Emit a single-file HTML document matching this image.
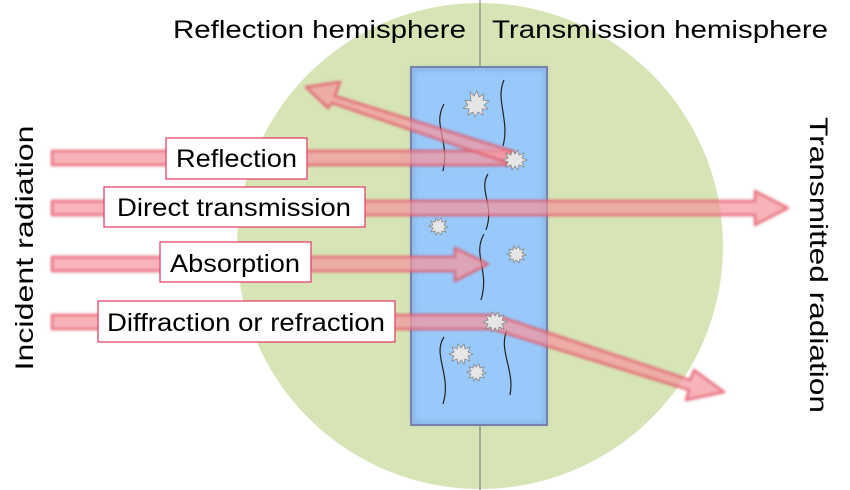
<!DOCTYPE html>
<html><head><meta charset="utf-8"><style>
html,body{margin:0;padding:0;background:#fff;}
svg{display:block;font-family:"Liberation Sans",sans-serif;}
</style></head><body>
<svg width="850" height="490" viewBox="0 0 850 490">
<defs>
<filter id="g" x="-20%" y="-50%" width="140%" height="200%"><feGaussianBlur stdDeviation="1.3"/></filter>
<filter id="sh"><feGaussianBlur stdDeviation="2"/></filter>
</defs>
<circle cx="480" cy="246" r="243" fill="#d7e4b5"/>
<line x1="480" y1="0" x2="480" y2="490" stroke="#777" stroke-width="1"/>
<rect x="411" y="67" width="136" height="358" fill="#99c9fb" stroke="#7a7fa8" stroke-width="2"/>
<rect x="413" y="69" width="132" height="354" fill="none" stroke="#6f8fc0" stroke-width="3" opacity="0.5" filter="url(#sh)"/>
<g fill="none" stroke="#222" stroke-width="1.2">
<path d="M444 104 C432 125,450 140,443 171"/>
<path d="M504 80 C495 100,510 120,503 146"/>
<path d="M488 174 C478 190,495 205,486 230"/>
<path d="M484 234 C472 255,490 270,481 300"/>
<path d="M444 337 C432 355,452 375,443 404"/>
<path d="M507 330 C498 350,515 370,510 395"/>
</g>
<g fill="rgba(245,150,160,0.72)" stroke="rgba(225,80,95,0.65)" stroke-width="3" stroke-linejoin="round" filter="url(#g)">
<path d="M52 151 L512 151 L512 165 L52 165Z"/>
<path d="M515 152 L335 96 L340 82 L306 87 L328 108 L332 103 L511 164Z"/>
<path d="M52 201 L755 201 L755 191 L788 208 L755 225 L755 215 L52 215Z"/>
<path d="M52 257 L455 257 L455 248 L488 264 L455 281 L455 271 L52 271Z"/>
<path d="M52 315 L495 315 L690 380 L694 370 L724 392 L686 400 L689 390 L492 329 L52 329Z"/>
</g>
<g fill="#e6e6e6" stroke="#888" stroke-width="0.8">
<path d="M470 92 l4 4 l3 -5 l2 6 l5 -3 l-1 6 l6 1 l-5 4 l4 4 l-6 0 l1 6 l-5 -3 l-3 5 l-2 -5 l-5 3 l1 -6 l-6 -1 l5 -3 l-3 -5 l6 1z"/>
<path d="M512 150 l3 4 l3 -4 l1 5 l5 -2 l-2 5 l5 2 l-5 2 l2 5 l-5 -2 l-1 5 l-3 -4 l-3 4 l-1 -5 l-5 2 l2 -5 l-5 -2 l5 -2 l-2 -5 l5 2z"/>
<path d="M436 218 l2 3 l3 -3 l1 4 l4 -1 l-2 4 l4 2 l-4 1 l2 4 l-4 -1 l-1 4 l-3 -3 l-2 3 l-1 -4 l-4 1 l2 -4 l-4 -2 l4 -1 l-2 -4 l4 1z"/>
<path d="M514 246 l2 3 l3 -3 l1 4 l4 -1 l-2 4 l4 2 l-4 1 l2 4 l-4 -1 l-1 4 l-3 -3 l-2 3 l-1 -4 l-4 1 l2 -4 l-4 -2 l4 -1 l-2 -4 l4 1z"/>
<path d="M492 312 l3 4 l3 -4 l1 5 l5 -2 l-2 5 l5 2 l-5 2 l2 5 l-5 -2 l-1 5 l-3 -4 l-3 4 l-1 -5 l-5 2 l2 -5 l-5 -2 l5 -2 l-2 -5 l5 2z"/>
<path d="M458 344 l3 4 l3 -4 l1 5 l5 -2 l-2 5 l5 2 l-5 2 l2 5 l-5 -2 l-1 5 l-3 -4 l-3 4 l-1 -5 l-5 2 l2 -5 l-5 -2 l5 -2 l-2 -5 l5 2z"/>
<path d="M474 364 l2 3 l3 -3 l1 4 l4 -1 l-2 4 l4 2 l-4 1 l2 4 l-4 -1 l-1 4 l-3 -3 l-2 3 l-1 -4 l-4 1 l2 -4 l-4 -2 l4 -1 l-2 -4 l4 1z"/>
</g>
<g fill="#fff" stroke="#e2456a" stroke-width="1.3">
<rect x="166" y="138" width="141" height="41"/>
<rect x="104" y="187" width="261" height="40"/>
<rect x="160" y="242" width="151" height="40"/>
<rect x="98" y="301" width="297" height="41"/>
</g>
<g font-size="25" fill="#000">
<text x="176" y="167" textLength="121" lengthAdjust="spacingAndGlyphs">Reflection</text>
<text x="117" y="216" textLength="234" lengthAdjust="spacingAndGlyphs">Direct transmission</text>
<text x="170" y="272" textLength="130" lengthAdjust="spacingAndGlyphs">Absorption</text>
<text x="107" y="331" textLength="278" lengthAdjust="spacingAndGlyphs">Diffraction or refraction</text>
</g>
<g font-size="25" fill="#000">
<text x="173" y="38" textLength="293" lengthAdjust="spacingAndGlyphs">Reflection hemisphere</text>
<text x="492" y="38" textLength="336" lengthAdjust="spacingAndGlyphs">Transmission hemisphere</text>
<text transform="translate(33,248) rotate(-90)" text-anchor="middle" textLength="245" lengthAdjust="spacingAndGlyphs">Incident radiation</text>
<text transform="translate(810,265) rotate(90)" text-anchor="middle" textLength="296" lengthAdjust="spacingAndGlyphs">Transmitted radiation</text>
</g>
</svg>
</body></html>
